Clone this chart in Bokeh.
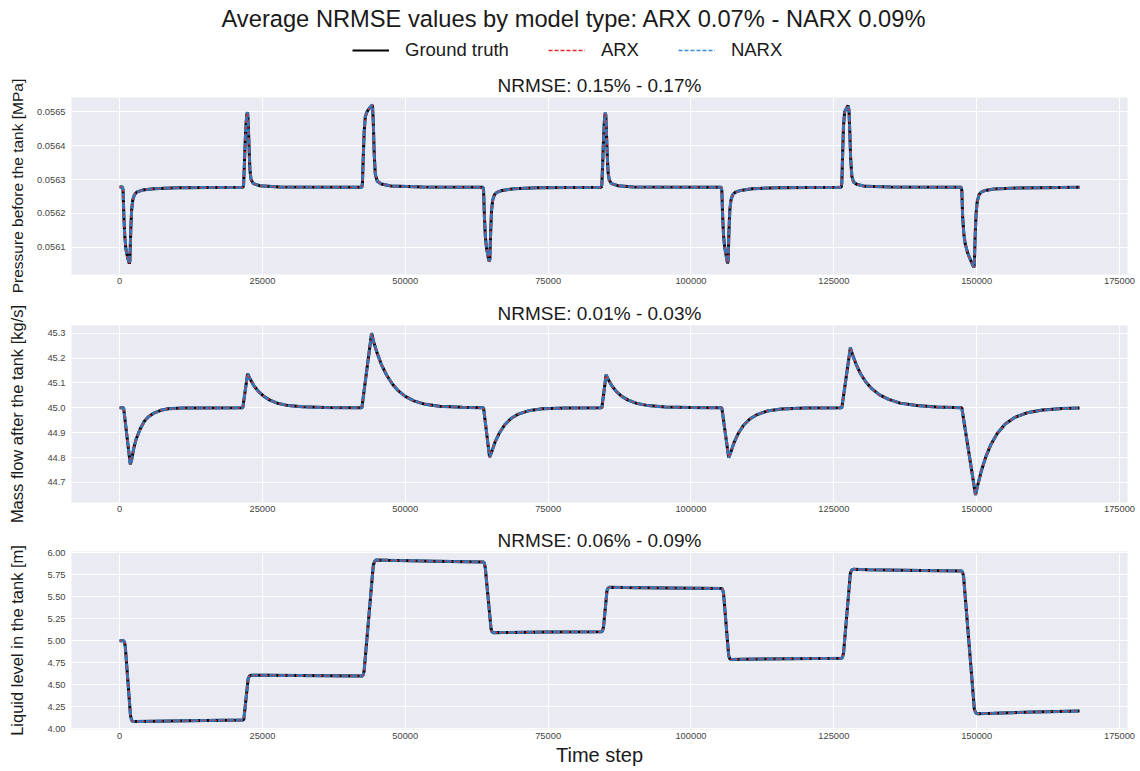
from bokeh.plotting import figure
from bokeh.layouts import column
from bokeh.models import Range1d, FixedTicker, NumeralTickFormatter, Legend, LegendItem
from bokeh.embed import file_html
from bokeh.resources import INLINE

FONT = "Liberation Sans"

# ---------------- data ----------------
suptitle = "Average NRMSE values by model type: ARX 0.07% - NARX 0.09%"
series_names = ["Ground truth", "ARX", "NARX"]
panel_titles = ["NRMSE: 0.15% - 0.17%", "NRMSE: 0.01% - 0.03%", "NRMSE: 0.06% - 0.09%"]
y_labels = ["Pressure before the tank [MPa]", "Mass flow after the tank [kg/s]", "Liquid level in the tank [m]"]
x_label = "Time step"
x_ticks = [0, 25000, 50000, 75000, 100000, 125000, 150000, 175000]

# Pressure before the tank
time_pressure = [
    0, 500, 600, 750, 900, 1100, 1400, 1700, 1800, 1950, 2100, 2300, 2600, 3000, 4000, 6000, 10000, 21600,
    21700, 21850, 22000, 22150, 22300, 22400, 22500, 22650, 22800, 23000, 23400, 24500, 28000, 42400,
    42500, 42650, 42800, 43000, 43300, 43700, 44100, 44250, 44400, 44550, 44750, 45100, 45800, 47500, 53000, 63600,
    63700, 63850, 64000, 64200, 64500, 64700, 64800, 64950, 65100, 65300, 65600, 66000, 67000, 69000, 73000, 84300,
    84400, 84550, 84700, 84850, 85000, 85100, 85200, 85350, 85500, 85700, 86100, 87200, 90000, 105300,
    105400, 105550, 105700, 105900, 106200, 106400, 106500, 106650, 106800, 107000, 107300, 107700, 108700, 110700, 115000, 126300,
    126400, 126550, 126700, 126900, 127200, 127500, 127650, 127800, 127950, 128150, 128450, 129000, 130500, 135000, 147300,
    147400, 147550, 147750, 148000, 148400, 148800, 149200, 149500, 149600, 149750, 149900, 150100, 150400, 150800, 151500, 153000, 157000, 168000,
]
pressure_truth = [
    0.056278, 0.056278, 0.056270, 0.056190, 0.056135, 0.056095, 0.056070, 0.056052, 0.056060, 0.056150, 0.056210, 0.056240, 0.056255, 0.056263, 0.056269, 0.056273, 0.056276, 0.056277,
    0.056285, 0.056350, 0.056420, 0.056470, 0.056495, 0.056498, 0.056470, 0.056400, 0.056330, 0.056300, 0.056288, 0.056282, 0.056278, 0.056277,
    0.056290, 0.056370, 0.056440, 0.056485, 0.056500, 0.056510, 0.056518, 0.056520, 0.056470, 0.056380, 0.056315, 0.056295, 0.056287, 0.056281, 0.056278, 0.056277,
    0.056268, 0.056190, 0.056135, 0.056100, 0.056072, 0.056058, 0.056066, 0.056150, 0.056210, 0.056240, 0.056255, 0.056262, 0.056268, 0.056273, 0.056276, 0.056277,
    0.056285, 0.056350, 0.056420, 0.056475, 0.056497, 0.056490, 0.056440, 0.056370, 0.056320, 0.056298, 0.056288, 0.056282, 0.056278, 0.056277,
    0.056268, 0.056190, 0.056135, 0.056100, 0.056072, 0.056053, 0.056060, 0.056150, 0.056210, 0.056240, 0.056255, 0.056262, 0.056268, 0.056273, 0.056276, 0.056277,
    0.056290, 0.056380, 0.056460, 0.056500, 0.056510, 0.056518, 0.056505, 0.056440, 0.056360, 0.056310, 0.056293, 0.056286, 0.056280, 0.056278, 0.056277,
    0.056268, 0.056190, 0.056140, 0.056110, 0.056085, 0.056068, 0.056052, 0.056041, 0.056050, 0.056140, 0.056200, 0.056235, 0.056255, 0.056263, 0.056268, 0.056272, 0.056275, 0.056277,
]
pressure_arx = list(pressure_truth)
pressure_narx = list(pressure_truth)

# Mass flow after the tank
time_flow = [
    0, 700, 1870, 2100, 2450, 2900, 3600, 4300, 5000, 6000, 7200, 8500, 11000, 21560,
    22400, 22800, 23500, 24300, 25200, 26300, 27700, 29500, 32000, 36000, 42400,
    44100, 44500, 45000, 45800, 46700, 47700, 48800, 50000, 51500, 53500, 56000, 60000, 63700,
    64750, 65100, 65700, 66500, 67400, 68500, 69800, 71500, 74000, 78000, 84400,
    85150, 85500, 86200, 87000, 87900, 89000, 90500, 92500, 95500, 100000, 105400,
    106600, 106950, 107500, 108300, 109200, 110300, 111600, 113300, 115800, 120000, 126400,
    127900, 128300, 128900, 129700, 130600, 131700, 133000, 134600, 136600, 139500, 143000, 147400,
    149800, 150200, 150800, 151600, 152500, 153600, 155000, 156700, 158800, 161500, 165000, 168000,
]
flow_truth = [
    45.000, 45.000, 44.773, 44.790, 44.835, 44.875, 44.915, 44.945, 44.963, 44.979, 44.990, 44.996, 44.999, 45.000,
    45.137, 45.118, 45.089, 45.066, 45.047, 45.031, 45.018, 45.009, 45.004, 45.001, 45.000,
    45.300, 45.262, 45.225, 45.175, 45.133, 45.097, 45.068, 45.046, 45.028, 45.014, 45.006, 45.002, 45.000,
    44.802, 44.822, 44.862, 44.900, 44.932, 44.957, 44.975, 44.988, 44.996, 44.999, 45.000,
    45.133, 45.115, 45.087, 45.064, 45.046, 45.031, 45.018, 45.009, 45.003, 45.001, 45.000,
    44.800, 44.820, 44.858, 44.898, 44.930, 44.955, 44.973, 44.987, 44.995, 44.999, 45.000,
    45.242, 45.212, 45.175, 45.136, 45.104, 45.076, 45.052, 45.034, 45.019, 45.009, 45.003, 45.000,
    44.650, 44.690, 44.745, 44.803, 44.853, 44.897, 44.935, 44.962, 44.980, 44.991, 44.997, 44.999,
]
flow_arx = list(flow_truth)
flow_narx = list(flow_truth)

# Liquid level in the tank
time_level = [
    0, 700, 850, 1000, 1900, 2100, 2300, 2600, 6000, 12000, 21600,
    21750, 22500, 22750, 23000, 26000, 42500,
    42650, 42800, 44400, 44650, 44900, 47000, 55000, 63700,
    63850, 64000, 65000, 65200, 65450, 67000, 75000, 84400,
    84550, 84700, 85300, 85500, 85700, 88000, 96000, 105400,
    105550, 105700, 106600, 106800, 107000, 109000, 117000, 126400,
    126550, 126700, 127900, 128150, 128400, 131000, 140000, 147400,
    147550, 147700, 149600, 149850, 150100, 153000, 160000, 168000,
]
level_truth = [
    5.000, 5.000, 4.985, 4.930, 4.150, 4.095, 4.082, 4.080, 4.084, 4.090, 4.098,
    4.110, 4.570, 4.600, 4.607, 4.606, 4.598,
    4.615, 4.660, 5.860, 5.905, 5.918, 5.915, 5.905, 5.895,
    5.880, 5.830, 5.140, 5.100, 5.090, 5.093, 5.098, 5.102,
    5.120, 5.160, 5.570, 5.600, 5.607, 5.605, 5.600, 5.594,
    5.578, 5.540, 4.830, 4.795, 4.787, 4.790, 4.796, 4.800,
    4.818, 4.860, 5.770, 5.805, 5.812, 5.808, 5.800, 5.792,
    5.775, 5.740, 4.220, 4.178, 4.170, 4.175, 4.188, 4.200,
]
level_arx = list(level_truth)
level_narx = list(level_truth)

pressure_ticks = [0.0561, 0.0562, 0.0563, 0.0564, 0.0565]
flow_ticks = [44.7, 44.8, 44.9, 45.0, 45.1, 45.2, 45.3]
level_ticks = [4.00, 4.25, 4.50, 4.75, 5.00, 5.25, 5.50, 5.75, 6.00]

# ---------------- styling ----------------
BG = "#EAEAF2"
TRUTH_C = "#000000"
ARX_C = "#E8262B"
NARX_C = "#3C8AD6"
FRAME_W = 1056
BORDER_L = 71
BORDER_R = 13


def make_panel(title, ylabel, t, truth, arx, narx, yr, yticks, fmt, frame_h,
               b_top, b_bottom, lab_standoff, lab_size, title_standoff, xlab=None):
    p = figure(frame_width=FRAME_W, frame_height=frame_h,
               x_range=Range1d(-8420, 176400), y_range=Range1d(*yr),
               output_backend="svg", toolbar_location=None,
               min_border_left=BORDER_L, min_border_right=BORDER_R,
               min_border_top=b_top, min_border_bottom=b_bottom)
    p.title.text = title
    p.title.align = "center"
    p.title.text_font = FONT
    p.title.text_font_size = "19px"
    p.title.text_font_style = "normal"
    p.title.text_color = "#1a1a1a"
    p.title.standoff = title_standoff
    p.background_fill_color = BG
    p.border_fill_color = "white"
    p.outline_line_color = None
    p.grid.grid_line_color = "white"
    p.grid.grid_line_width = 1
    p.line(t, truth, line_color=TRUTH_C, line_width=3)
    p.line(t, narx, line_color=NARX_C, line_width=3, line_dash="7 2", line_alpha=0.85)
    p.line(t, arx, line_color=ARX_C, line_width=1.3, line_dash="2 4")
    p.xaxis.ticker = FixedTicker(ticks=x_ticks)
    p.xaxis.formatter = NumeralTickFormatter(format="0")
    p.yaxis.ticker = FixedTicker(ticks=yticks)
    p.yaxis.formatter = NumeralTickFormatter(format=fmt)
    for ax in (p.xaxis, p.yaxis):
        ax.axis_line_color = None
        ax.major_tick_line_color = None
        ax.minor_tick_line_color = None
        ax.major_tick_out = 0
        ax.major_tick_in = 0
        ax.major_label_text_font = FONT
        ax.major_label_text_font_size = "9.3px"
        ax.major_label_text_color = "#444444"
    p.xaxis.major_label_standoff = 3
    p.yaxis.major_label_standoff = 6
    p.yaxis.axis_label = ylabel
    p.yaxis.axis_label_text_font = FONT
    p.yaxis.axis_label_text_font_size = lab_size
    p.yaxis.axis_label_text_font_style = "normal"
    p.yaxis.axis_label_text_color = "#1a1a1a"
    p.yaxis.axis_label_standoff = lab_standoff
    if xlab:
        p.xaxis.axis_label = xlab
        p.xaxis.axis_label_text_font = FONT
        p.xaxis.axis_label_text_font_size = "20px"
        p.xaxis.axis_label_text_font_style = "normal"
        p.xaxis.axis_label_text_color = "#1a1a1a"
        p.xaxis.axis_label_standoff = 2
    return p


# header with suptitle and legend (frame aligned with the panels below)
header = figure(frame_width=FRAME_W, height=70, x_range=Range1d(0, 1), y_range=Range1d(0, 1),
                output_backend="svg", toolbar_location=None,
                x_axis_location=None, y_axis_location=None,
                min_border_left=BORDER_L, min_border_right=BORDER_R,
                min_border_top=0, min_border_bottom=0)
header.title.text = suptitle
header.title.align = "left"
header.title.offset = 147
header.title.text_font = FONT
header.title.text_font_size = "23.7px"
header.title.text_font_style = "normal"
header.title.text_color = "#1a1a1a"
header.title.standoff = 0
header.title.padding = 3
header.grid.visible = False
header.outline_line_color = None
header.background_fill_color = "white"
header.border_fill_color = "white"
# legend proxies, kept outside the visible range of the header
r_truth = header.line([5, 6], [5, 6], line_color=TRUTH_C, line_width=2)
r_arx = header.line([5, 6], [5, 6], line_color=ARX_C, line_width=1.5, line_dash="4 2")
r_narx = header.line([5, 6], [5, 6], line_color=NARX_C, line_width=1.5, line_dash="4 2")
legend = Legend(items=[LegendItem(label=series_names[0], renderers=[r_truth]),
                       LegendItem(label=series_names[1], renderers=[r_arx]),
                       LegendItem(label=series_names[2], renderers=[r_narx])],
                orientation="horizontal", location=(281, 9),
                glyph_width=37, glyph_height=20, label_standoff=16, spacing=39,
                label_text_font=FONT, label_text_font_size="18.5px",
                label_text_color="#1a1a1a",
                border_line_color=None, background_fill_alpha=0, padding=0, margin=0)
header.add_layout(legend, "center")

p1 = make_panel(panel_titles[0], y_labels[0], time_pressure, pressure_truth, pressure_arx, pressure_narx,
                (0.056020, 0.056542), pressure_ticks, "0.0000", 177, 27, 24, 8, "15.5px", 4)
p2 = make_panel(panel_titles[1], y_labels[1], time_flow, flow_truth, flow_arx, flow_narx,
                (44.6195, 45.3310), flow_ticks, "0.0", 177, 27, 24, 18, "16.5px", 4)
p3 = make_panel(panel_titles[2], y_labels[2], time_level, level_truth, level_arx, level_narx,
                (3.990, 6.015), level_ticks, "0.00", 178, 25, 42, 18, "16.5px", 2, xlab=x_label)

layout = column(header, p1, p2, p3, spacing=0)

open("out.html", "w").write(file_html(layout, INLINE))
